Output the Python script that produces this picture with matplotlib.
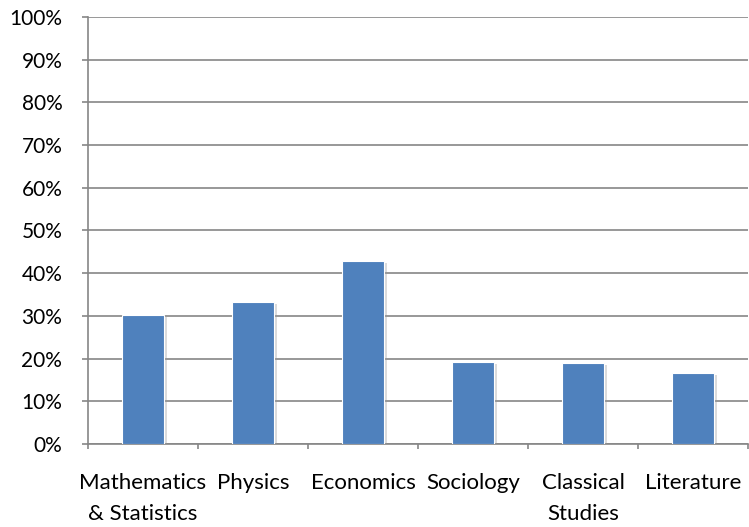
import numpy as np
import matplotlib.pyplot as plt
import matplotlib.patheffects as pe

subjects = ["Mathematics\n& Statistics", "Physics", "Economics", "Sociology",
            "Classical\nStudies", "Literature"]
share = [30.2, 33.3, 42.9, 19.2, 18.9, 16.6]

plt.rcParams['font.family'] = ['Lato', 'DejaVu Sans']

fig = plt.figure(figsize=(7.49, 5.27), dpi=100)
ax = fig.add_axes([88 / 749, 83 / 527, 660 / 749, 427 / 527])

x = np.arange(len(subjects))
bars = ax.bar(x, share, width=0.39, color="#4F81BD", edgecolor="white",
              linewidth=0.8, zorder=3)
for b in bars:
    b.set_path_effects([pe.SimplePatchShadow(offset=(1.5, -1.5), shadow_rgbFace="#999999", alpha=0.35),
                        pe.Normal()])

ax.set_xlim(-0.5, len(subjects) - 0.5)
ax.set_ylim(0, 100)
ax.set_yticks(np.arange(0, 101, 10))
ax.set_yticklabels([f"{v}%" for v in range(0, 101, 10)])
ax.yaxis.grid(True, color="#868686", linewidth=1.2, zorder=0)

ax.set_xticks(np.arange(-0.5, len(subjects), 1))
ax.set_xticklabels([])
ax.set_xticks(x, minor=True)
ax.set_xticklabels(subjects, minor=True, linespacing=1.65)
ax.tick_params(axis="x", which="minor", length=0, pad=21, labelsize=16)
ax.tick_params(axis="x", which="major", length=3.5, color="#868686", width=1.2)
ax.tick_params(axis="y", length=4.5, color="#868686", width=1.2, labelsize=15, pad=14)

for s in ["top", "right"]:
    ax.spines[s].set_visible(False)
for s in ["left", "bottom"]:
    ax.spines[s].set_color("#868686")
    ax.spines[s].set_linewidth(1.2)

fig.savefig("out.png", dpi=100)
